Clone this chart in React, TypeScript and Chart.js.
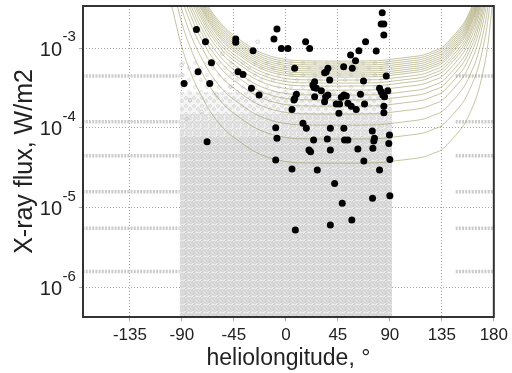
import React, { useEffect, useRef } from 'react';
import { Chart, registerables } from 'chart.js';

Chart.register(...registerables);

// ---- axis ticks ----
const xTickValues = [-135, -90, -45, 0, 45, 90, 135, 180];
const yDecades = [1e-6, 1e-5, 1e-4, 1e-3];
const xRange = [-175.6, 180];
const yRange = [4.25e-7, 3.37e-3];

// ---- black filled points (flares) ----
const flareLon = [
  -77.4, -69.6, -43.4, -43.4, -28.4, -7.7, -10.3, -3.9, 1.8, -64.4,
  -76.0, -41.4, -37.1, -88.1, -65.9, -29.8, -23.2, 17.1, 20.6, 83.4,
  82.5, 84.8, 84.8, 69.0, 63.2, 78.2, 56.0, 60.3, 7.6, 50.0,
  57.5, 36.4, 35.0, 33.5, 37.9, 67.2, 86.9, 24.9, 23.4, 24.3,
  26.4, 30.7, 9.1, 7.6, 7.0, 36.4, 34.4, 24.9, 50.2, 52.3,
  48.0, 64.6, 81.1, 82.5, 83.9, 85.4, 88.2, 33.5, 43.6, 46.5,
  53.7, 56.6, 68.1, 60.9, 84.8, 5.3, 45.9, 84.8, 14.8, 17.7,
  38.5, 50.2, 74.8, 89.7, 76.7, 76.1, 24.0, 35.9, 50.8, 53.7,
  89.1, 75.3, 20.0, 21.4, 38.5, 62.3, 67.5, 90.0, 5.3, 27.2,
  81.1, 42.2, 75.0, 90.0, 48.8, 57.1, 38.5, 8.2, -68.2, -8.8,
  -7.7, -8.8,
];
const flareFlux = [
  1.71e-3, 1.2e-3, 1.3e-3, 1.18e-3, 9.25e-4, 1.73e-3, 1.3e-3, 9.9e-4, 9.9e-4, 6.54e-4,
  5.05e-4, 5.05e-4, 4.68e-4, 3.61e-4, 3.61e-4, 3.13e-4, 2.58e-4, 1.2e-3, 9.9e-4, 2.77e-3,
  2.0e-3, 2.0e-3, 1.46e-3, 1.2e-3, 9.25e-4, 9.17e-4, 8.17e-4, 6.93e-4, 5.57e-4, 5.83e-4,
  5.57e-4, 5.57e-4, 5.05e-4, 4.9e-4, 3.97e-4, 3.86e-4, 4.46e-4, 3.78e-4, 3.44e-4, 3.21e-4,
  3.13e-4, 2.92e-4, 2.63e-4, 2.34e-4, 2.23e-4, 2.58e-4, 2.45e-4, 2.45e-4, 2.58e-4, 2.5e-4,
  2.41e-4, 2.63e-4, 3.13e-4, 2.83e-4, 2.58e-4, 2.45e-4, 2.92e-4, 2.12e-4, 1.99e-4, 1.99e-4,
  2.03e-4, 1.87e-4, 1.99e-4, 1.7e-4, 1.87e-4, 1.7e-4, 1.52e-4, 1.55e-4, 1.14e-4, 9.85e-5,
  9.85e-5, 9.85e-5, 9.11e-5, 8.11e-5, 7.38e-5, 6.83e-5, 7.03e-5, 7.23e-5, 7.03e-5, 7.03e-5,
  6.38e-5, 5.53e-5, 5.26e-5, 5.01e-5, 5.26e-5, 5.42e-5, 3.83e-5, 4.02e-5, 3.04e-5, 2.96e-5,
  2.96e-5, 2.01e-5, 1.31e-5, 1.41e-5, 1.13e-5, 6.98e-6, 6.04e-6, 5.23e-6, 6.69e-5, 1.0e-4,
  7.38e-5, 3.94e-5,
];

// ---- isolated grey open circles above the dense cloud ----
const strayLon = [-24.4, -90.3, -90.3, -83.1, -73.0, -55.0, -48.0, -86.0, -60.0];
const strayFlux = [1.2e-3, 6.12e-4, 4.59e-4, 2.23e-4, 1.59e-4, 8.5e-4, 3.3e-4, 1.3e-4, 2.6e-4];

// ---- grey cloud of events (|lon| < 92), density bands ----
const cloudLon = [-92, 92];
const cloudBandTop = [8.0e-5, 1.5e-4, 2.8e-4, 7.5e-4];

// ---- rows of grey circles outside the disk ----
const rowFlux = [4.47e-4, 1.19e-4, 4.47e-5, 1.58e-5, 5.5e-6, 1.58e-6];
const rowLeftLon = [-176, -92];
const rowRightLon = [147, 180];

// ---- olive limb curves: flux at the flat minimum, and the common limb profile (decades above it) ----
const curveFlux = [
  6.87e-4, 6.49e-4, 6.12e-4, 5.78e-4, 5.46e-4, 5.15e-4, 4.86e-4, 4.59e-4, 4.33e-4, 3.97e-4,
  3.64e-4, 3.34e-4, 2.97e-4, 2.57e-4, 2.23e-4, 1.87e-4, 1.49e-4, 1.08e-4, 7.23e-5, 3.61e-5,
];
const limbLon = [-110, -105, -100, -96, -90, -80, -70, -66, -59, -50, -40, -29, -15, 0, 10, 45, 80, 90, 107, 120, 127, 135, 144, 150, 155, 160, 165, 170, 175, 178, 182];
const limbDex = [2.8, 2.4, 2.05, 1.8, 1.45, 1.05, 0.76, 0.66, 0.52, 0.38, 0.27, 0.16, 0.07, 0.02, 0.005, 0, 0.005, 0.02, 0.05, 0.08, 0.12, 0.17, 0.3, 0.4, 0.5, 0.65, 0.83, 1.1, 1.5, 1.9, 2.5];

const FONT = '"Liberation Sans", Arial, Helvetica, sans-serif';

function makePattern(
  ctx: CanvasRenderingContext2D,
  size: number,
  bg: string | null,
  rings: number[][],
  ringColor: string,
  r: number,
  lw: number
) {
  const c = document.createElement('canvas');
  c.width = size;
  c.height = size;
  const g = c.getContext('2d')!;
  if (bg) {
    g.fillStyle = bg;
    g.fillRect(0, 0, size, size);
  }
  g.strokeStyle = ringColor;
  g.lineWidth = lw;
  rings.forEach(([cx, cy]) => {
    g.beginPath();
    g.arc(cx, cy, r, 0, Math.PI * 2);
    g.stroke();
  });
  return ctx.createPattern(c, 'repeat')!;
}

const decorPlugin = {
  id: 'decor',
  afterDraw(chart: any) {
    const { ctx, chartArea: a, scales } = chart;
    ctx.save();
    ctx.strokeStyle = '#333';
    ctx.lineWidth = 2;
    ctx.strokeRect(a.left, a.top, a.right - a.left, a.bottom - a.top);

    ctx.fillStyle = '#222';
    ctx.textBaseline = 'alphabetic';
    yDecades.forEach((v) => {
      const py = scales.y.getPixelForValue(v);
      ctx.font = `20px ${FONT}`;
      ctx.textAlign = 'right';
      ctx.fillText('10', 62, py + 7.5);
      ctx.font = `15px ${FONT}`;
      ctx.textAlign = 'left';
      ctx.fillText(String(Math.round(Math.log10(v))), 62.5, py - 6.8);
    });

    ctx.font = `23px ${FONT}`;
    ctx.textAlign = 'center';
    ctx.fillText('heliolongitude, \u00b0', (a.left + a.right) / 2, 365);

    ctx.translate(32, (a.top + a.bottom) / 2);
    ctx.rotate(-Math.PI / 2);
    ctx.font = `25px ${FONT}`;
    ctx.textAlign = 'center';
    ctx.fillText('X-ray flux, W/m2', 0, 0);
    ctx.restore();
  },
};

export default function App() {
  const ref = useRef<HTMLCanvasElement>(null);

  useEffect(() => {
    document.body.style.margin = '0';
    const canvas = ref.current!;
    const ctx = canvas.getContext('2d')!;

    const densePat = makePattern(ctx, 8, '#e8e8e8', [[2, 2], [6, 3], [3, 6], [7, 7], [0, 5]], '#c3c3c3', 1.4, 0.7);
    const dense2Pat = makePattern(ctx, 8, '#efefef', [[2, 2], [6, 3], [3, 6], [7, 7]], '#c8c8c8', 1.4, 0.7);
    const midPat = makePattern(ctx, 8, 'rgba(242,242,242,0.8)', [[2, 2], [6, 5]], '#cacaca', 1.4, 0.7);
    const sparsePat = makePattern(ctx, 12, null, [[3, 3], [9, 8]], '#d2d2d2', 1.4, 0.7);

    const datasets: any[] = [];

    datasets.push({
      label: 'flares',
      data: flareLon.map((x, i) => ({ x, y: flareFlux[i] })),
      pointRadius: 3.5,
      pointBackgroundColor: '#000',
      pointBorderWidth: 0,
      showLine: false,
      order: 0,
    });

    datasets.push({
      label: 'stray',
      data: strayLon.map((x, i) => ({ x, y: strayFlux[i] })),
      pointRadius: 1.8,
      pointBackgroundColor: 'rgba(0,0,0,0)',
      pointBorderColor: '#c6c6c6',
      pointBorderWidth: 0.8,
      showLine: false,
      order: 3,
    });

    curveFlux.forEach((f, k) => {
      datasets.push({
        type: 'line',
        label: 'curve' + k,
        data: limbLon.map((x, i) => ({ x, y: f * Math.pow(10, limbDex[i]) })),
        borderColor: 'rgba(160,156,100,0.6)',
        borderWidth: 1,
        pointRadius: 0,
        cubicInterpolationMode: 'monotone',
        fill: false,
        order: 1,
      });
    });

    rowFlux.forEach((f, k) => {
      [rowLeftLon, rowRightLon].forEach((rng, j) => {
        datasets.push({
          type: 'line',
          label: 'row' + k + '_' + j,
          data: rng.map((x) => ({ x, y: f })),
          borderColor: 'rgba(200,200,200,0.95)',
          borderWidth: 3.5,
          borderDash: [2, 1.2],
          pointRadius: 0,
          fill: false,
          order: 4,
        });
      });
    });

    const bandPats = [densePat, dense2Pat, midPat, sparsePat];
    cloudBandTop.forEach((top, k) => {
      datasets.push({
        type: 'line',
        label: 'cloud' + k,
        data: cloudLon.map((x) => ({ x, y: top })),
        borderWidth: 0,
        borderColor: 'rgba(0,0,0,0)',
        backgroundColor: bandPats[k],
        pointRadius: 0,
        fill: k === 0 ? 'start' : { value: cloudBandTop[k - 1] },
        order: 5,
      });
    });

    const chart = new Chart(canvas, {
      type: 'scatter',
      data: { datasets },
      plugins: [decorPlugin],
      options: {
        animation: false,
        responsive: false,
        events: [],
        layout: { padding: { top: 6, right: 17, left: 0, bottom: 0 } },
        plugins: { legend: { display: false }, tooltip: { enabled: false } },
        scales: {
          x: {
            type: 'linear',
            min: xRange[0],
            max: xRange[1],
            afterBuildTicks: (s: any) => {
              s.ticks = xTickValues.map((v) => ({ value: v }));
            },
            afterFit: (s: any) => {
              s.height = 56;
            },
            ticks: {
              autoSkip: false,
              maxRotation: 0,
              color: '#222',
              padding: 4,
              font: { family: FONT, size: 17 },
              callback: (v: any) => String(v),
            },
            grid: { color: '#a8a8a8', lineWidth: 1, tickLength: 4, tickColor: '#a8a8a8' },
            border: { display: false, dash: [1, 2] },
          },
          y: {
            type: 'logarithmic',
            min: yRange[0],
            max: yRange[1],
            afterBuildTicks: (s: any) => {
              s.ticks = yDecades.map((v) => ({ value: v }));
            },
            afterFit: (s: any) => {
              s.width = 83;
            },
            ticks: { display: false },
            grid: { color: '#a8a8a8', lineWidth: 1, tickLength: 4, tickColor: '#a8a8a8' },
            border: { display: false, dash: [1, 2] },
          },
        },
      } as any,
    });

    return () => chart.destroy();
  }, []);

  return (
    <div style={{ position: 'fixed', left: 0, top: 0, width: 512, height: 373, background: '#fff' }}>
      <canvas ref={ref} width={512} height={373} style={{ width: 512, height: 373 }} />
    </div>
  );
}
